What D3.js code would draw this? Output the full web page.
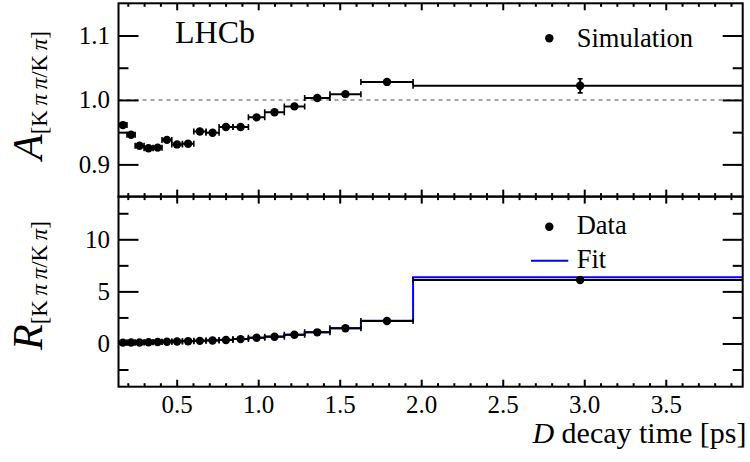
<!DOCTYPE html>
<html><head><meta charset="utf-8">
<script src="https://cdn.jsdelivr.net/npm/d3@7"></script>
<style>
body{margin:0;background:#fff}
svg{display:block}
text{font-family:"Liberation Serif","Times New Roman",serif;fill:#000}
</style>
</head><body>
<svg id="c" width="750" height="462"></svg>
<script>
// ---- data ----
const binLow  = [0.143,0.195,0.245,0.300,0.355,0.410,0.470,0.535,0.605,0.680,0.760,0.845,0.940,1.040,1.160,1.285,1.440,1.630,1.950];
const binHigh = [0.195,0.245,0.300,0.355,0.410,0.470,0.535,0.605,0.680,0.760,0.845,0.940,1.040,1.160,1.285,1.440,1.630,1.950,4.000];
const binCentre = [0.170,0.220,0.272,0.327,0.383,0.440,0.502,0.570,0.642,0.720,0.802,0.892,0.990,1.100,1.222,1.362,1.535,1.790,2.975];
const simA    = [0.961,0.946,0.929,0.925,0.926,0.938,0.931,0.932,0.951,0.949,0.958,0.958,0.973,0.981,0.990,1.003,1.009,1.028,1.022];
const simAErr = [0.002,0.002,0.002,0.002,0.002,0.002,0.002,0.002,0.002,0.002,0.002,0.002,0.002,0.002,0.002,0.002,0.003,0.003,0.011];
const dataR    = [0.08,0.09,0.10,0.12,0.14,0.16,0.19,0.22,0.25,0.28,0.34,0.42,0.55,0.65,0.84,1.07,1.46,2.16,6.09];
const dataRErr = [0.01,0.01,0.01,0.01,0.01,0.01,0.01,0.01,0.01,0.01,0.01,0.01,0.01,0.02,0.02,0.03,0.04,0.06,0.12];
const fitR     = [0.10,0.11,0.12,0.14,0.16,0.18,0.21,0.24,0.27,0.31,0.36,0.43,0.54,0.66,0.84,1.08,1.47,2.17,6.35];
const xMajor = [0.5,1.0,1.5,2.0,2.5,3.0,3.5];
const aMajor = [0.9,1.0,1.1];
const rMajor = [0,5,10];

(function(){
const FONT = "Liberation Serif, Times New Roman, serif";
// ---- layout ----
const L = 118.5, Rx = 742.7, T1 = 3.3, B1 = 196.6, T2 = 196.6, B2 = 386.7;
const svg = d3.select("#c").attr("font-family", FONT);
const x  = d3.scaleLinear([0.143, 3.972], [L, Rx]);
const yA = d3.scaleLinear([0.85, 1.15], [B1, T1]);
const yR = d3.scaleLinear([-4.15, 14.1], [B2, T2]);

const xMinor = d3.range(2, 40).map(d => d / 10).filter(d => xMajor.indexOf(+d.toFixed(1)) < 0);
const aMinor = [0.95, 1.05];
const rMinor = [-2.5, 2.5, 7.5, 12.5];

svg.append("clipPath").attr("id","c1").append("rect").attr("x",L).attr("y",T1).attr("width",Rx-L).attr("height",B1-T1);
svg.append("clipPath").attr("id","c2").append("rect").attr("x",L).attr("y",T2).attr("width",Rx-L).attr("height",B2-T2);

function styleAxis(g){
  g.attr("font-family", FONT);
  g.select(".domain").remove();
  g.selectAll(".tick line").attr("stroke","#000").attr("stroke-width",2);
  g.selectAll("text").attr("font-family", FONT).attr("fill","#000");
}
function frameAxes(yScale, topY, bottomY, yMaj, yMin, yFmt, showX){
  let g = svg.append("g").attr("transform",`translate(0,${bottomY})`)
    .call(d3.axisBottom(x).tickValues(xMajor).tickSize(-7).tickPadding(9)
      .tickFormat(showX ? d3.format(".1f") : ""));
  styleAxis(g); g.attr("font-size",25); g.selectAll("text").attr("font-size",25);
  g = svg.append("g").attr("transform",`translate(0,${bottomY})`)
    .call(d3.axisBottom(x).tickValues(xMinor).tickSize(-3.5).tickFormat(""));
  styleAxis(g);
  g = svg.append("g").attr("transform",`translate(0,${topY})`)
    .call(d3.axisTop(x).tickValues(xMajor).tickSize(-7).tickFormat(""));
  styleAxis(g);
  g = svg.append("g").attr("transform",`translate(0,${topY})`)
    .call(d3.axisTop(x).tickValues(xMinor).tickSize(-3.5).tickFormat(""));
  styleAxis(g);
  g = svg.append("g").attr("transform",`translate(${L},0)`)
    .call(d3.axisLeft(yScale).tickValues(yMaj).tickSize(-20).tickPadding(8.5).tickFormat(d3.format(yFmt)));
  styleAxis(g); g.attr("font-size",25); g.selectAll("text").attr("font-size",25);
  g = svg.append("g").attr("transform",`translate(${L},0)`)
    .call(d3.axisLeft(yScale).tickValues(yMin).tickSize(-10).tickFormat(""));
  styleAxis(g);
  g = svg.append("g").attr("transform",`translate(${Rx},0)`)
    .call(d3.axisRight(yScale).tickValues(yMaj).tickSize(-20).tickFormat(""));
  styleAxis(g);
  g = svg.append("g").attr("transform",`translate(${Rx},0)`)
    .call(d3.axisRight(yScale).tickValues(yMin).tickSize(-10).tickFormat(""));
  styleAxis(g);
}

// ---- top panel ----
const topG = svg.append("g").attr("clip-path","url(#c1)");
topG.append("line").attr("x1",L).attr("x2",Rx).attr("y1",yA(1)).attr("y2",yA(1))
  .attr("stroke","#888").attr("stroke-width",1.6).attr("stroke-dasharray","4,4");

function drawPoints(g, ys, vals, errs){
  const pts = d3.range(vals.length);
  const cap = 3;
  g.selectAll(null).data(pts).enter().append("line")
    .attr("x1",i=>x(binLow[i])).attr("x2",i=>x(binHigh[i]))
    .attr("y1",i=>ys(vals[i])).attr("y2",i=>ys(vals[i]))
    .attr("stroke","#000").attr("stroke-width",2);
  g.selectAll(null).data(pts).enter().append("line")
    .attr("x1",i=>x(binLow[i])).attr("x2",i=>x(binLow[i]))
    .attr("y1",i=>ys(vals[i])-cap).attr("y2",i=>ys(vals[i])+cap)
    .attr("stroke","#000").attr("stroke-width",1.6);
  g.selectAll(null).data(pts).enter().append("line")
    .attr("x1",i=>x(binHigh[i])).attr("x2",i=>x(binHigh[i]))
    .attr("y1",i=>ys(vals[i])-cap).attr("y2",i=>ys(vals[i])+cap)
    .attr("stroke","#000").attr("stroke-width",1.6);
  g.selectAll(null).data(pts).enter().append("line")
    .attr("x1",i=>x(binCentre[i])).attr("x2",i=>x(binCentre[i]))
    .attr("y1",i=>ys(vals[i]-errs[i])).attr("y2",i=>ys(vals[i]+errs[i]))
    .attr("stroke","#000").attr("stroke-width",2);
  g.selectAll(null).data(pts).enter().append("line")
    .attr("x1",i=>x(binCentre[i])-2.5).attr("x2",i=>x(binCentre[i])+2.5)
    .attr("y1",i=>ys(vals[i]-errs[i])).attr("y2",i=>ys(vals[i]-errs[i]))
    .attr("stroke","#000").attr("stroke-width",1.6);
  g.selectAll(null).data(pts).enter().append("line")
    .attr("x1",i=>x(binCentre[i])-2.5).attr("x2",i=>x(binCentre[i])+2.5)
    .attr("y1",i=>ys(vals[i]+errs[i])).attr("y2",i=>ys(vals[i]+errs[i]))
    .attr("stroke","#000").attr("stroke-width",1.6);
  g.selectAll(null).data(pts).enter().append("circle")
    .attr("cx",i=>x(binCentre[i])).attr("cy",i=>ys(vals[i])).attr("r",4.2).attr("fill","#000");
}
drawPoints(topG, yA, simA, simAErr);

// ---- bottom panel ----
const botG = svg.append("g").attr("clip-path","url(#c2)");
const stepPts = [];
binLow.forEach((lo,i)=>{ stepPts.push([lo, fitR[i]]); stepPts.push([binHigh[i], fitR[i]]); });
botG.append("path").datum(stepPts)
  .attr("d", d3.line().x(d=>x(d[0])).y(d=>yR(d[1])))
  .attr("fill","none").attr("stroke","#0000ff").attr("stroke-width",2);
drawPoints(botG, yR, dataR, dataRErr);

// ---- frames & axes ----
frameAxes(yA, T1, B1, aMajor, aMinor, ".1f", false);
frameAxes(yR, T2, B2, rMajor, rMinor, "d", true);
svg.append("rect").attr("x",L).attr("y",T1).attr("width",Rx-L).attr("height",B1-T1)
  .attr("fill","none").attr("stroke","#000").attr("stroke-width",2);
svg.append("rect").attr("x",L).attr("y",T2).attr("width",Rx-L).attr("height",B2-T2)
  .attr("fill","none").attr("stroke","#000").attr("stroke-width",2);

// ---- texts ----
svg.append("text").attr("x",175).attr("y",42.7).attr("font-size",32).text("LHCb");

svg.append("circle").attr("cx",549.3).attr("cy",38.3).attr("r",4.2).attr("fill","#000");
svg.append("text").attr("x",576.7).attr("y",46.7).attr("font-size",26.5).text("Simulation");

svg.append("circle").attr("cx",549.3).attr("cy",226.7).attr("r",4.2).attr("fill","#000");
svg.append("text").attr("x",576.7).attr("y",234.3).attr("font-size",26.5).text("Data");
svg.append("line").attr("x1",531).attr("x2",568.3).attr("y1",260.7).attr("y2",260.7)
  .attr("stroke","#0000ff").attr("stroke-width",2);
svg.append("text").attr("x",576.7).attr("y",268.3).attr("font-size",26.5).text("Fit");

const xt = svg.append("text").attr("x",746.5).attr("y",443.3).attr("text-anchor","end").attr("font-size",30);
xt.append("tspan").attr("font-style","italic").text("D");
xt.append("tspan").text(" decay time [ps]");

function yTitle(letter, startY){
  const t = svg.append("text").attr("transform",`translate(42,${startY}) rotate(-90)`).attr("font-size",42);
  t.append("tspan").attr("font-style","italic").text(letter);
  t.append("tspan").attr("font-size",23).attr("dy",5).text("[K\u2009");
  t.append("tspan").attr("font-size",23).attr("font-style","italic").text("π\u2009π");
  t.append("tspan").attr("font-size",23).text("/K\u2009");
  t.append("tspan").attr("font-size",23).attr("font-style","italic").text("π");
  t.append("tspan").attr("font-size",23).text("]");
}
yTitle("A", 160);
yTitle("R", 350);
})();
</script>
</body></html>
